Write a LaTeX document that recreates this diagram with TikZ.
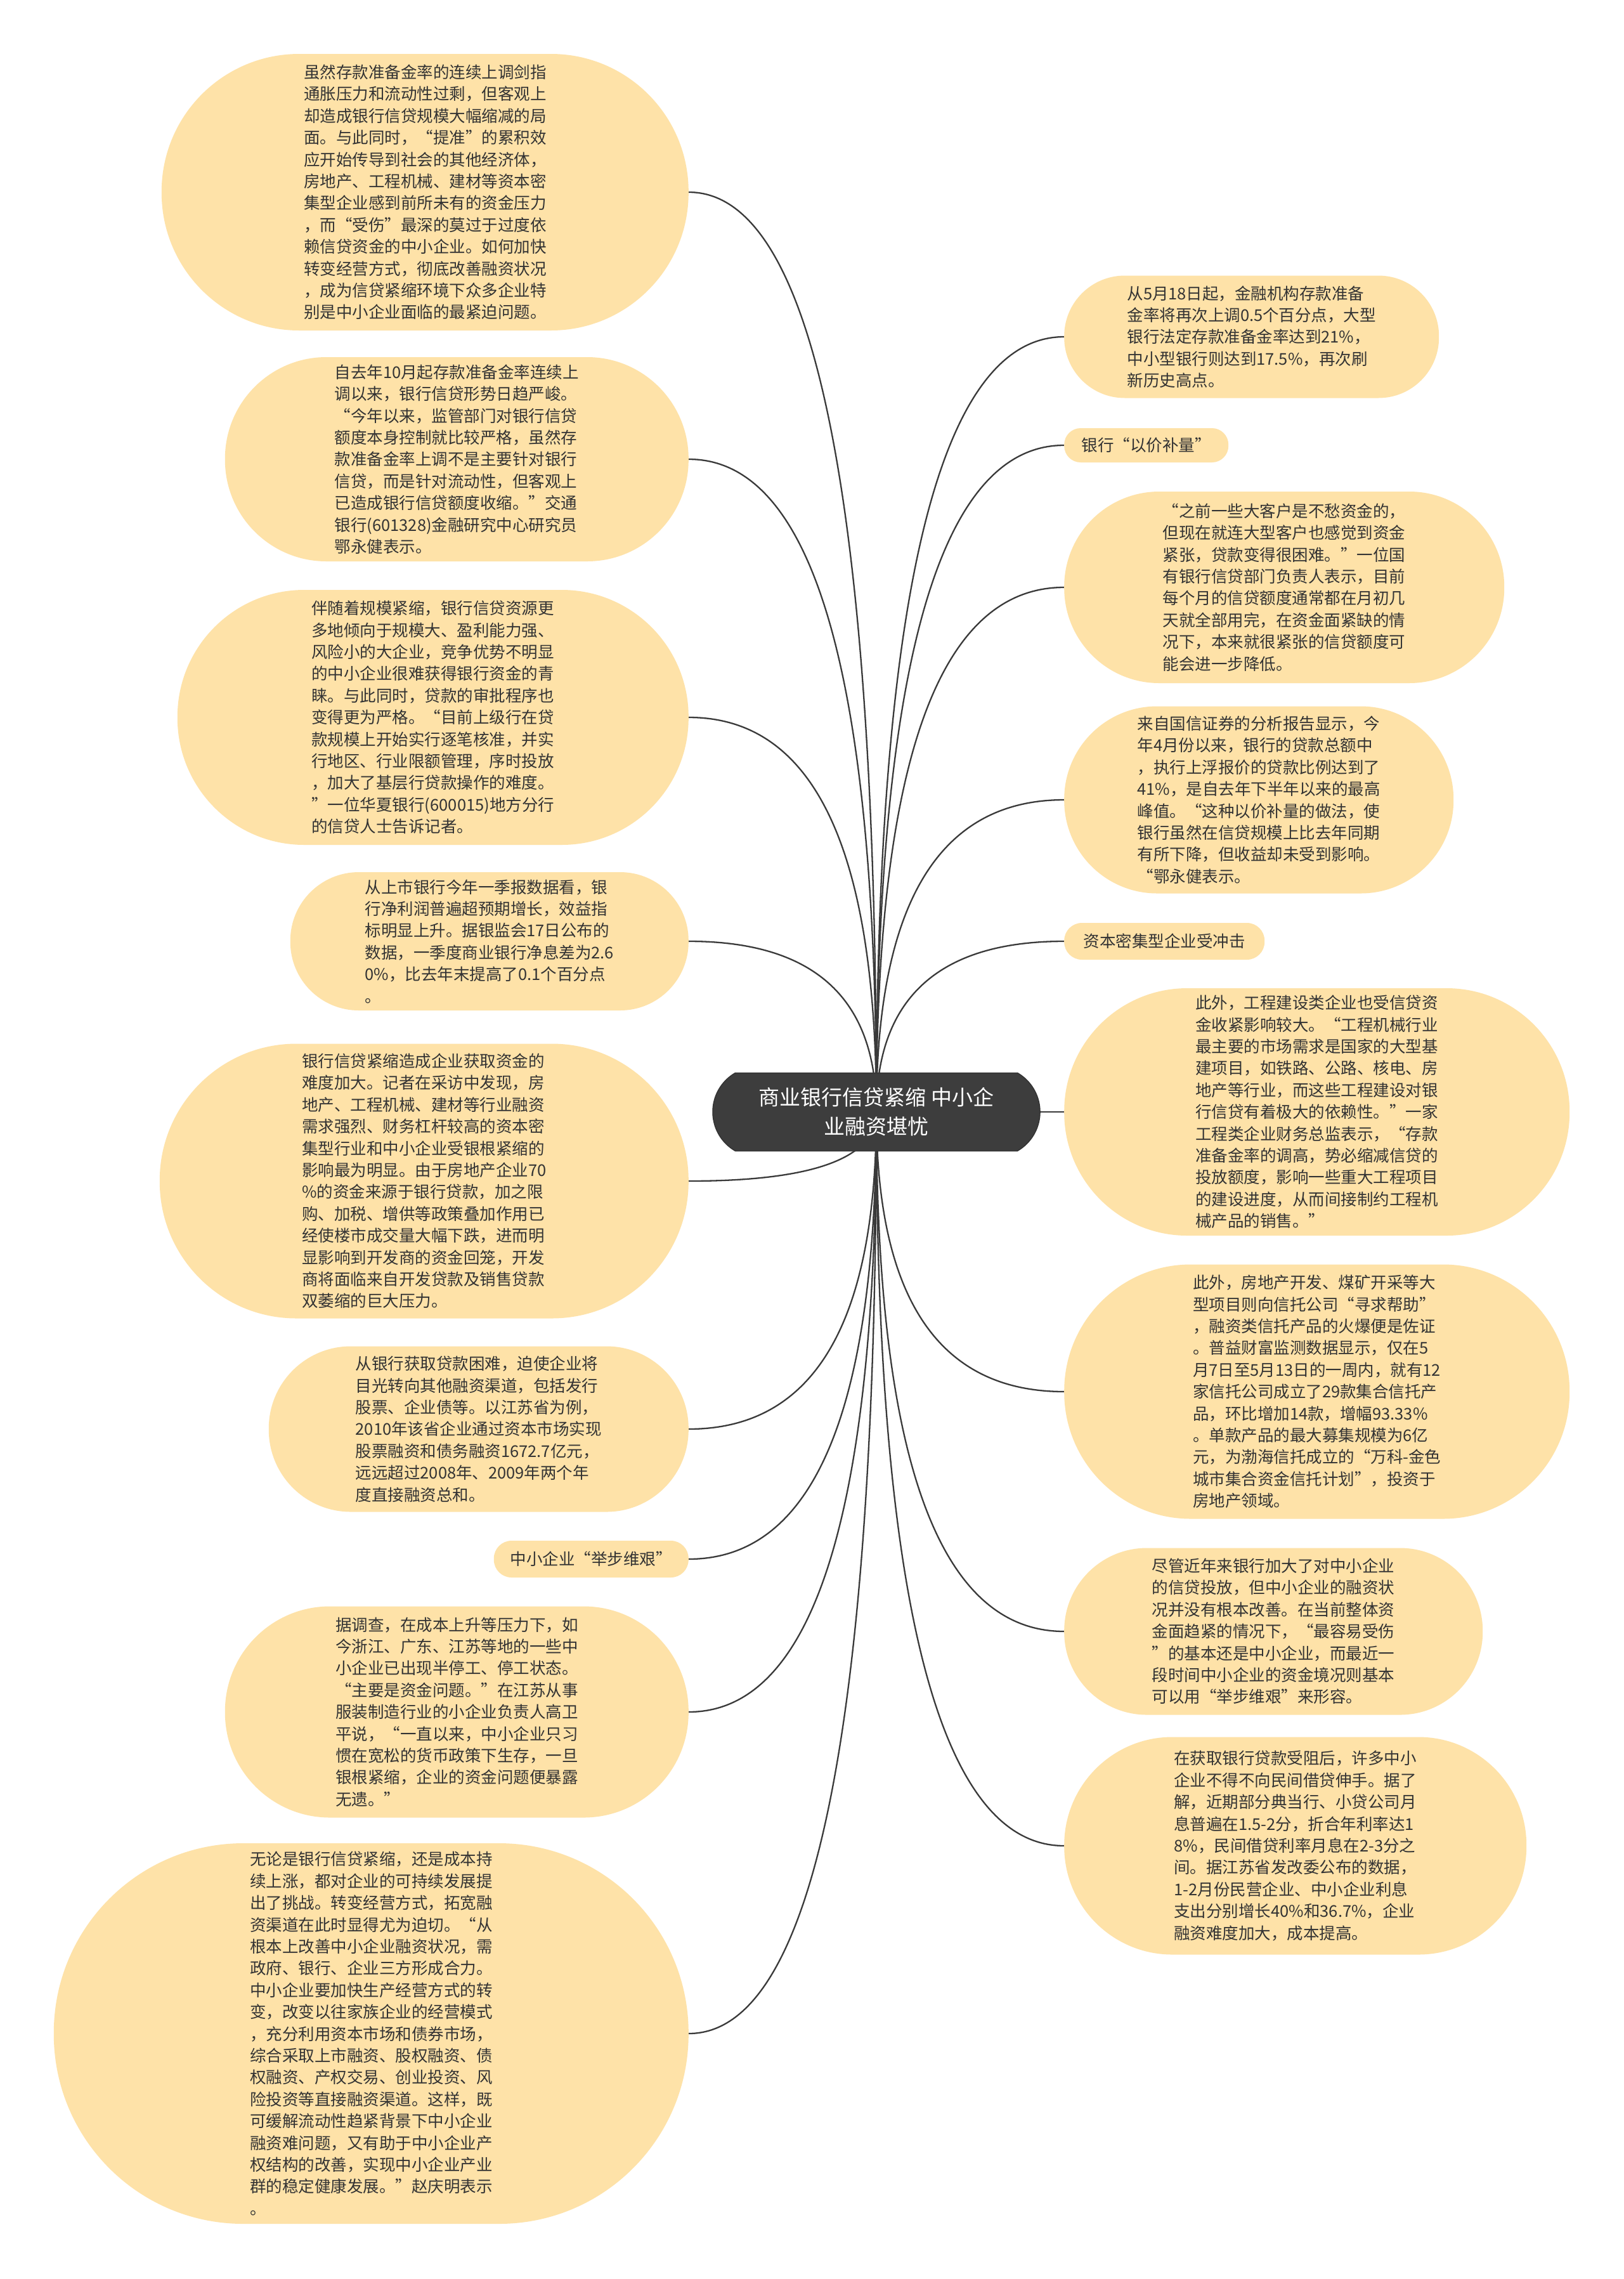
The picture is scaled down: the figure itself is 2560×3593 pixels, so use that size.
\documentclass[tikz,border=0pt]{standalone}
\usepackage{fontspec}
\setmainfont{Noto Sans CJK SC}
\usetikzlibrary{calc,backgrounds,shapes.misc}

\definecolor{leafyellow}{HTML}{FEE2A8}
\definecolor{hubgray}{HTML}{3D3D3D}
\definecolor{inkgray}{HTML}{333333}
\definecolor{wiregray}{HTML}{3A3A3A}

\newcommand{\leaffont}{\fontsize{25.5}{34.4}\selectfont}
\newcommand{\hubfont}{\fontsize{33}{46}\selectfont}

\tikzset{
  leaf/.style 2 args={fill=leafyellow, text=inkgray, font=\leaffont, align=left,
      inner sep=0pt, minimum width=#1pt, minimum height=#2pt,
      rounded corners=#2pt/2-1pt},
  hub/.style={rounded rectangle, rounded rectangle arc length=120,
      fill=hubgray, draw=black!80, line width=1.5pt, text=white,
      font=\hubfont, align=center, inner sep=0pt,
      minimum width=516pt, minimum height=123pt},
  wire/.style={draw=wiregray, line width=2.3pt},
}

\begin{document}
\begin{tikzpicture}[x=1pt, y=-1pt]
\useasboundingbox (0,0) rectangle (2560,3593);

\node[hub] (hub) at (1382,1753) {商业银行信贷紧缩 中小企\\业融资堪忧};

% left column
\node[leaf={831}{436}, anchor=east] (ratioHike) at (1086,303)
    {虽然存款准备金率的连续上调剑指\\通胀压力和流动性过剩，但客观上\\却造成银行信贷规模大幅缩减的局\\面。与此同时，“提准”的累积效\\应开始传导到社会的其他经济体，\\房地产、工程机械、建材等资本密\\集型企业感到前所未有的资金压力\\，而“受伤”最深的莫过于过度依\\赖信贷资金的中小企业。如何加快\\转变经营方式，彻底改善融资状况\\，成为信贷紧缩环境下众多企业特\\别是中小企业面临的最紧迫问题。};
\node[leaf={731}{322}, anchor=east] (creditTight) at (1086,724)
    {自去年10月起存款准备金率连续上\\调以来，银行信贷形势日趋严峻。\\“今年以来，监管部门对银行信贷\\额度本身控制就比较严格，虽然存\\款准备金率上调不是主要针对银行\\信贷，而是针对流动性，但客观上\\已造成银行信贷额度收缩。”交通\\银行(601328)金融研究中心研究员\\鄂永健表示。};
\node[leaf={806}{402}, anchor=east] (bigFirms) at (1086,1131)
    {伴随着规模紧缩，银行信贷资源更\\多地倾向于规模大、盈利能力强、\\风险小的大企业，竞争优势不明显\\的中小企业很难获得银行资金的青\\睐。与此同时，贷款的审批程序也\\变得更为严格。“目前上级行在贷\\款规模上开始实行逐笔核准，并实\\行地区、行业限额管理，序时投放\\，加大了基层行贷款操作的难度。\\”一位华夏银行(600015)地方分行\\的信贷人士告诉记者。};
\node[leaf={628}{218}, anchor=east] (bankProfit) at (1086,1484)
    {从上市银行今年一季报数据看，银\\行净利润普遍超预期增长，效益指\\标明显上升。据银监会17日公布的\\数据，一季度商业银行净息差为2.6\\0\%，比去年末提高了0.1个百分点\\。};
\node[leaf={834}{433}, anchor=east] (firmsSqueeze) at (1086,1862)
    {银行信贷紧缩造成企业获取资金的\\难度加大。记者在采访中发现，房\\地产、工程机械、建材等行业融资\\需求强烈、财务杠杆较高的资本密\\集型行业和中小企业受银根紧缩的\\影响最为明显。由于房地产企业70\\\%的资金来源于银行贷款，加之限\\购、加税、增供等政策叠加作用已\\经使楼市成交量大幅下跌，进而明\\显影响到开发商的资金回笼，开发\\商将面临来自开发贷款及销售贷款\\双萎缩的巨大压力。};
\node[leaf={662}{261}, anchor=east] (bondRoute) at (1086,2253)
    {从银行获取贷款困难，迫使企业将\\目光转向其他融资渠道，包括发行\\股票、企业债等。以江苏省为例，\\2010年该省企业通过资本市场实现\\股票融资和债务融资1672.7亿元，\\远远超过2008年、2009年两个年\\度直接融资总和。};
\node[leaf={307}{58}, anchor=east] (smeTag) at (1086,2458) {中小企业“举步维艰”};
\node[leaf={731}{333}, anchor=east] (survey) at (1086,2699)
    {据调查，在成本上升等压力下，如\\今浙江、广东、江苏等地的一些中\\小企业已出现半停工、停工状态。\\“主要是资金问题。”在江苏从事\\服装制造行业的小企业负责人高卫\\平说，“一直以来，中小企业只习\\惯在宽松的货币政策下生存，一旦\\银根紧缩，企业的资金问题便暴露\\无遗。”};
\node[leaf={1001}{600}, anchor=east] (advice) at (1086,3206)
    {无论是银行信贷紧缩，还是成本持\\续上涨，都对企业的可持续发展提\\出了挑战。转变经营方式，拓宽融\\资渠道在此时显得尤为迫切。“从\\根本上改善中小企业融资状况，需\\政府、银行、企业三方形成合力。\\中小企业要加快生产经营方式的转\\变，改变以往家族企业的经营模式\\，充分利用资本市场和债券市场，\\综合采取上市融资、股权融资、债\\权融资、产权交易、创业投资、风\\险投资等直接融资渠道。这样，既\\可缓解流动性趋紧背景下中小企业\\融资难问题，又有助于中小企业产\\权结构的改善，实现中小企业产业\\群的稳定健康发展。”赵庆明表示\\。};

% right column
\node[leaf={591}{193}, anchor=west] (mayRate) at (1678,531)
    {从5月18日起，金融机构存款准备\\金率将再次上调0.5个百分点，大型\\银行法定存款准备金率达到21\%，\\中小型银行则达到17.5\%，再次刷\\新历史高点。};
\node[leaf={259}{54}, anchor=west] (priceTag) at (1678,702) {银行“以价补量”};
\node[leaf={694}{302}, anchor=west] (clientQuote) at (1678,926)
    {“之前一些大客户是不愁资金的，\\但现在就连大型客户也感觉到资金\\紧张，贷款变得很困难。”一位国\\有银行信贷部门负责人表示，目前\\每个月的信贷额度通常都在月初几\\天就全部用完，在资金面紧缺的情\\况下，本来就很紧张的信贷额度可\\能会进一步降低。};
\node[leaf={614}{295}, anchor=west] (guosen) at (1678,1261)
    {来自国信证券的分析报告显示，今\\年4月份以来，银行的贷款总额中\\，执行上浮报价的贷款比例达到了\\41\%，是自去年下半年以来的最高\\峰值。“这种以价补量的做法，使\\银行虽然在信贷规模上比去年同期\\有所下降，但收益却未受到影响。\\“鄂永健表示。};
\node[leaf={316}{58}, anchor=west] (capitalTag) at (1678,1484) {资本密集型企业受冲击};
\node[leaf={797}{390}, anchor=west] (engineering) at (1678,1753)
    {此外，工程建设类企业也受信贷资\\金收紧影响较大。“工程机械行业\\最主要的市场需求是国家的大型基\\建项目，如铁路、公路、核电、房\\地产等行业，而这些工程建设对银\\行信贷有着极大的依赖性。”一家\\工程类企业财务总监表示，“存款\\准备金率的调高，势必缩减信贷的\\投放额度，影响一些重大工程项目\\的建设进度，从而间接制约工程机\\械产品的销售。”};
\node[leaf={797}{401}, anchor=west] (trusts) at (1678,2194)
    {此外，房地产开发、煤矿开采等大\\型项目则向信托公司“寻求帮助”\\，融资类信托产品的火爆便是佐证\\。普益财富监测数据显示，仅在5\\月7日至5月13日的一周内，就有12\\家信托公司成立了29款集合信托产\\品，环比增加14款，增幅93.33\%\\。单款产品的最大募集规模为6亿\\元，为渤海信托成立的“万科-金色\\城市集合资金信托计划”，投资于\\房地产领域。};
\node[leaf={660}{263}, anchor=west] (smeCredit) at (1678,2572)
    {尽管近年来银行加大了对中小企业\\的信贷投放，但中小企业的融资状\\况并没有根本改善。在当前整体资\\金面趋紧的情况下，“最容易受伤\\”的基本还是中小企业，而最近一\\段时间中小企业的资金境况则基本\\可以用“举步维艰”来形容。};
\node[leaf={729}{343}, anchor=west] (privateLoans) at (1678,2910)
    {在获取银行贷款受阻后，许多中小\\企业不得不向民间借贷伸手。据了\\解，近期部分典当行、小贷公司月\\息普遍在1.5-2分，折合年利率达1\\8\%，民间借贷利率月息在2-3分之\\间。据江苏省发改委公布的数据，\\1-2月份民营企业、中小企业利息\\支出分别增长40\%和36.7\%，企业\\融资难度加大，成本提高。};

% connectors, behind everything
\begin{scope}[on background layer]
\fill[white] (0,0) rectangle (2560,3593);
\foreach \leafname/\side in {ratioHike/east, creditTight/east, bigFirms/east,
    bankProfit/east, firmsSqueeze/east, bondRoute/east, smeTag/east, survey/east,
    advice/east, mayRate/west, priceTag/west, clientQuote/west, guosen/west,
    capitalTag/west, engineering/west, trusts/west, smeCredit/west, privateLoans/west}
  \draw[wire] (hub.center)
    .. controls ($(hub.center)!0.667!(hub.center |- \leafname.\side)$)
    and ($(\leafname.\side)!0.667!(hub.center |- \leafname.\side)$) .. (\leafname.\side);
\end{scope}
\end{tikzpicture}
\end{document}
